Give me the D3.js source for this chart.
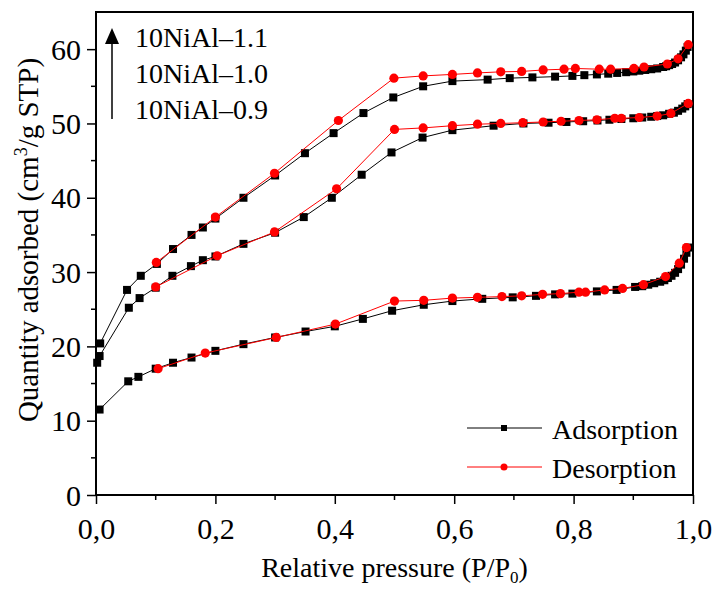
<!DOCTYPE html>
<html><head><meta charset="utf-8">
<script src="https://cdn.jsdelivr.net/npm/d3@7"></script>
<style>body{margin:0;background:#fff}svg text{font-family:"Liberation Serif","Times New Roman",serif !important;fill:#000}</style>
</head><body><svg id="c" width="712" height="590"></svg>
<script>
// ---- data ----
const sampleLabels = ["10NiAl\u20131.1", "10NiAl\u20131.0", "10NiAl\u20130.9"];
const legendLabels = ["Adsorption", "Desorption"];
const xTicks = [0, 0.2, 0.4, 0.6, 0.8, 1.0];
const yTicks = [0, 10, 20, 30, 40, 50, 60];

const ads11 = [[0.007,20.4],[0.052,27.6],[0.075,29.5],[0.102,31.1],[0.129,33.1],[0.16,35.0],[0.179,36.0],[0.2,37.2],[0.247,40.0],[0.3,43.0],[0.35,46.0],[0.398,48.7],[0.448,51.4],[0.498,53.5],[0.548,55.0],[0.597,55.7],[0.656,55.9],[0.693,56.1],[0.731,56.2],[0.769,56.3],[0.798,56.4],[0.818,56.5],[0.839,56.6],[0.858,56.7],[0.873,56.8],[0.888,56.9],[0.9,57.0],[0.91,57.1],[0.92,57.2],[0.93,57.3],[0.94,57.4],[0.95,57.6],[0.955,57.7],[0.96,57.85],[0.965,58.0],[0.97,58.2],[0.975,58.5],[0.98,58.9],[0.984,59.3],[0.988,59.8],[0.991,60.3]];
const des11 = [[0.101,31.3],[0.2,37.4],[0.299,43.3],[0.406,50.4],[0.499,56.1],[0.548,56.4],[0.597,56.6],[0.639,56.8],[0.678,56.95],[0.713,57.0],[0.749,57.2],[0.784,57.3],[0.803,57.4],[0.843,57.3],[0.862,57.3],[0.901,57.4],[0.918,57.6],[0.957,58.0],[0.975,58.7],[0.992,60.6]];
const ads10 = [[0.002,17.8],[0.006,18.7],[0.055,25.2],[0.073,26.5],[0.1,27.9],[0.128,29.5],[0.159,30.8],[0.179,31.6],[0.2,32.1],[0.247,33.8],[0.3,35.3],[0.348,37.4],[0.395,40.0],[0.445,43.1],[0.495,46.1],[0.547,48.1],[0.597,49.1],[0.666,49.7],[0.716,50.0],[0.758,50.1],[0.788,50.2],[0.816,50.3],[0.84,50.4],[0.86,50.5],[0.88,50.6],[0.9,50.7],[0.915,50.8],[0.93,50.9],[0.94,51.0],[0.95,51.1],[0.96,51.3],[0.968,51.45],[0.975,51.7],[0.982,52.0],[0.987,52.3],[0.991,52.6]];
const des10 = [[0.1,28.0],[0.203,32.2],[0.299,35.4],[0.403,41.2],[0.5,49.2],[0.548,49.4],[0.597,49.7],[0.639,49.9],[0.678,50.0],[0.715,50.1],[0.749,50.2],[0.779,50.3],[0.809,50.4],[0.839,50.5],[0.869,50.7],[0.88,50.7],[0.91,50.8],[0.94,51.0],[0.963,51.35],[0.992,52.7]];
const ads09 = [[0.006,11.5],[0.054,15.3],[0.071,15.9],[0.1,17.0],[0.129,17.8],[0.16,18.5],[0.2,19.4],[0.247,20.3],[0.3,21.2],[0.351,22.0],[0.4,22.7],[0.447,23.7],[0.496,24.8],[0.549,25.6],[0.597,26.1],[0.647,26.4],[0.698,26.6],[0.737,26.8],[0.769,27.0],[0.798,27.1],[0.839,27.4],[0.872,27.6],[0.903,28.0],[0.915,28.1],[0.925,28.3],[0.935,28.5],[0.945,28.7],[0.952,28.9],[0.958,29.2],[0.964,29.5],[0.97,29.9],[0.975,30.4],[0.98,31.0],[0.985,31.8],[0.989,32.6],[0.992,33.3]];
const des09 = [[0.104,17.0],[0.183,19.1],[0.302,21.2],[0.401,23.0],[0.5,26.1],[0.549,26.2],[0.597,26.5],[0.639,26.6],[0.68,26.7],[0.713,26.8],[0.748,27.0],[0.778,27.1],[0.809,27.3],[0.82,27.3],[0.852,27.6],[0.882,27.8],[0.917,28.3],[0.954,29.4],[0.977,31.2],[0.989,33.3]];

const adsSeries = [ads11, ads10, ads09];
const desSeries = [des11, des10, des09];

// ---- layout ----
const FONT = "'Liberation Serif','Times New Roman',serif";
const L = 96, R = 693, T = 12, B = 495;
const svg = d3.select("#c");
const x = d3.scaleLinear().domain([0, 1]).range([L, R]);
const y = d3.scaleLinear().domain([0, 65]).range([B, T]);
const fmt = d => d3.format(".1f")(d).replace(".", ",");

// minor ticks
const xMinor = d3.range(0.1, 1, 0.2);
const yMinor = d3.range(5, 65, 10);
svg.append("g").selectAll("line").data(xMinor).join("line")
  .attr("x1", d => x(d)).attr("x2", d => x(d)).attr("y1", B).attr("y2", B + 5)
  .attr("stroke", "#000").attr("stroke-width", 1.5);
svg.append("g").selectAll("line").data(yMinor).join("line")
  .attr("y1", d => y(d)).attr("y2", d => y(d)).attr("x1", L).attr("x2", L - 5)
  .attr("stroke", "#000").attr("stroke-width", 1.5);

// axes
const xAxis = svg.append("g").attr("transform", `translate(0,${B})`)
  .call(d3.axisBottom(x).tickValues(xTicks).tickFormat(fmt).tickSize(9).tickPadding(6));
const yAxis = svg.append("g").attr("transform", `translate(${L},0)`)
  .call(d3.axisLeft(y).tickValues(yTicks).tickFormat(d3.format("d")).tickSize(9).tickPadding(6));
[xAxis, yAxis].forEach(g => {
  g.attr("font-family", null).attr("font-size", null);
  g.select(".domain").remove();
  g.selectAll(".tick line").attr("stroke", "#000").attr("stroke-width", 1.5);
  g.selectAll(".tick text").style("font-family", FONT).attr("font-size", 30).attr("fill", "#000");
});
xAxis.selectAll(".tick text").attr("dy", "0.95em");
yAxis.selectAll(".tick text").attr("dy", "0.34em");

// frame
svg.append("rect").attr("x", L).attr("y", T).attr("width", R - L).attr("height", B - T)
  .attr("fill", "none").attr("stroke", "#000").attr("stroke-width", 2);

// lines
const line = d3.line().x(d => x(d[0])).y(d => y(d[1]));
const plot = svg.append("g");
adsSeries.forEach(s => {
  plot.append("path").datum(s).attr("d", line).attr("fill", "none").attr("stroke", "#000").attr("stroke-width", 1);
  plot.append("g").selectAll("rect").data(s).join("rect")
    .attr("x", d => x(d[0]) - 4).attr("y", d => y(d[1]) - 4).attr("width", 8).attr("height", 8).attr("fill", "#000");
});
desSeries.forEach(s => {
  plot.append("path").datum(s).attr("d", line).attr("fill", "none").attr("stroke", "#ff0000").attr("stroke-width", 1);
  plot.append("g").selectAll("circle").data(s).join("circle")
    .attr("cx", d => x(d[0])).attr("cy", d => y(d[1])).attr("r", 4.6).attr("fill", "#ff0000");
});

// sample legend with arrow
const lg = svg.append("g");
lg.append("line").attr("x1", 112).attr("x2", 112).attr("y1", 119).attr("y2", 40).attr("stroke", "#000").attr("stroke-width", 1.5);
lg.append("path").attr("d", "M112,28 L105,44 L119,44 Z").attr("fill", "#000");
lg.selectAll("text").data(sampleLabels).join("text").style("font-family", FONT)
  .attr("x", 135).attr("y", (d, i) => 47 + i * 36).attr("font-size", 28).text(d => d);

// series legend
const leg = svg.append("g");
legendLabels.forEach((lab, i) => {
  const yy = 428 + i * 39;
  const col = i === 0 ? "#000" : "#ff0000";
  leg.append("line").attr("x1", 467).attr("x2", 542).attr("y1", yy).attr("y2", yy).attr("stroke", col).attr("stroke-width", 1);
  if (i === 0) leg.append("rect").attr("x", 501).attr("y", yy - 3).attr("width", 6).attr("height", 6).attr("fill", col);
  else leg.append("circle").attr("cx", 504).attr("cy", yy).attr("r", 3.5).attr("fill", col);
  leg.append("text").style("font-family", FONT).attr("x", 552).attr("y", yy + 11).attr("font-size", 28).text(lab);
});

// axis titles
const xt = svg.append("text").style("font-family", FONT).attr("x", (L + R) / 2).attr("y", 577).attr("text-anchor", "middle").attr("font-size", 28);
xt.append("tspan").text("Relative pressure (P/P");
xt.append("tspan").attr("font-size", 17).attr("dy", 6).text("0");
xt.append("tspan").attr("dy", -6).text(")");

const yt = svg.append("text").style("font-family", FONT).attr("transform", "translate(38,240) rotate(-90)").attr("text-anchor", "middle").attr("font-size", 29);
yt.append("tspan").text("Quantity adsorbed (cm");
yt.append("tspan").attr("font-size", 18).attr("dy", -11).text("3");
yt.append("tspan").attr("dy", 11).text("/g STP)");
</script></body></html>
